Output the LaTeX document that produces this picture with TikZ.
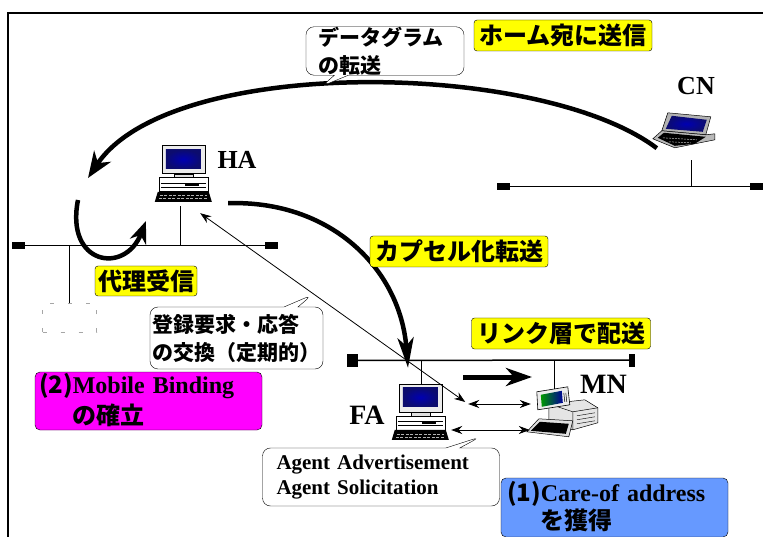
\documentclass[tikz,border=0pt]{standalone}
\usepackage{fontspec}
\setmainfont{Liberation Serif}
\newfontfamily\jp{Noto Sans CJK JP}
\usetikzlibrary{arrows.meta,shapes.callouts}

\definecolor{tagyellow}{RGB}{255,255,0}
\definecolor{bindpink}{RGB}{255,0,255}
\definecolor{coablue}{RGB}{102,153,255}
\definecolor{screenblue}{RGB}{12,12,110}

\begin{document}
\begin{tikzpicture}[x=1pt, y=-1pt,
        tag/.style={draw, fill=tagyellow, rounded corners=3pt, inner sep=0pt,
            minimum height=31pt, font=\jp\bfseries\fontsize{24}{26}\selectfont},
        note/.style={rectangle callout, draw, fill=white, rounded corners=8pt,
            inner sep=0pt, align=left, callout pointer width=14pt},
        panel/.style={draw, rounded corners=5pt, inner sep=0pt, align=left,
            font=\bfseries\fontsize{24}{30}\selectfont},
        host/.style={inner sep=0pt},
        hostlabel/.style={font=\bfseries\fontsize{26}{28}\selectfont},
        term/.style={fill=black, inner sep=0pt, minimum width=13pt, minimum height=7pt},
        net/.style={line width=1.5pt},
        drop/.style={line width=0.8pt},
        flow/.style={line width=4.5pt, -{Stealth[length=26pt,width=20pt,inset=8pt]}},
        msg/.style={line width=0.8pt,
            {Stealth[length=11pt,width=8pt]}-{Stealth[length=11pt,width=8pt]}},
        desktop/.pic={
            % monitor
            \draw[fill=gray!15, line width=0.6pt] (7,0) rectangle (50,28);
            \shade[inner color=blue!70!black, outer color=screenblue] (11,4) rectangle (46,23);
            \draw[fill=gray!25, line width=0.5pt] (19,28) rectangle (38,32);
            % system unit
            \draw[fill=white, line width=0.6pt] (4,32) rectangle (53,46);
            \draw[line width=0.5pt] (6,37) -- (51,37) (6,41) -- (51,41);
            \fill[black] (30,38) rectangle (44,40);
            % keyboard
            \fill[black] (3,46) -- (54,46) -- (57,56) -- (0,56) -- cycle;
            \draw[gray!60, line width=0.6pt, dash pattern=on 3pt off 1.5pt]
                (5,50) -- (52,50) (4,53) -- (53,53);
        },
        laptop/.pic={
            \draw[fill=gray!60, line width=0.5pt] (15,1) -- (58,5) -- (53,23) -- (9,19) -- cycle;
            \shade[inner color=blue!70!black, outer color=screenblue]
                (19,4) -- (54,8) -- (50,20) -- (13,17) -- cycle;
            \draw[fill=gray!55, line width=0.5pt]
                (9,19) -- (53,23) -- (62,22) -- (62,28) -- (22,36) -- (0,27) -- cycle;
            \fill[black] (5,26) -- (11,21) -- (53,25) -- (42,32) -- (22,34) -- cycle;
            \draw[gray!50, line width=0.5pt, dash pattern=on 2pt off 1pt]
                (10,26) -- (44,28) (16,30) -- (38,31);
        },
        portable/.pic={
            % unit under the display
            \draw[fill=gray!20, line width=0.5pt]
                (22,16) -- (58,12) -- (71,20) -- (71,35) -- (46,42) -- (22,34) -- cycle;
            \draw[line width=0.5pt] (22,16) -- (46,24) -- (71,20) (46,24) -- (46,42);
            \draw[line width=0.4pt] (50,28) -- (68,25) (50,32) -- (68,29) (50,36) -- (68,33);
            % keyboard tray
            \draw[fill=gray!25, line width=0.5pt] (0,44) -- (12,31) -- (46,33) -- (42,49) -- cycle;
            \fill[black] (4,43) -- (13,34) -- (42,36) -- (39,46) -- cycle;
            % tilted display
            \draw[fill=gray!15, line width=0.6pt] (10,4) -- (41,-1) -- (43,17) -- (11,22) -- cycle;
            \shade[left color=green!60!black, right color=blue!60!black]
                (14,7) -- (35,3) -- (36,15) -- (15,19) -- cycle;
            \draw[line width=0.5pt] (37,5) -- (38,14) (39,5) -- (40,14);
        }]
    \useasboundingbox (0,0) rectangle (763,537);
    \draw[line width=1.3pt] (8,537) -- (8,13) -- (763,13);

    % hosts
    \node[host, minimum width=57pt, minimum height=56pt] (ha) at (183.5,174) {};
    \pic at (ha.north west) {desktop};
    \node[host, minimum width=56pt, minimum height=55pt] (fa) at (420,411.5) {};
    \pic at (fa.north west) {desktop};
    \node[host, minimum width=62pt, minimum height=36pt] (cn) at (684,130) {};
    \pic at (cn.north west) {laptop};
    \node[host, minimum width=71pt, minimum height=49pt] (mn) at (562.5,412.5) {};
    \pic at (mn.north west) {portable};

    \node[hostlabel] (ha-name) at (237,160) {HA};
    \node[hostlabel] (cn-name) at (696,86) {CN};
    \node[hostlabel, font=\bfseries\fontsize{28}{30}\selectfont] (fa-name) at (367,415) {FA};
    \node[hostlabel, font=\bfseries\fontsize{28}{30}\selectfont] (mn-name) at (603.5,384) {MN};

    % networks
    \node[term] (hl) at (18.5,245.5) {};
    \node[term] (hr) at (271.5,245.5) {};
    \draw[net] (hl) -- (hr);
    \node[term] (cl) at (503.5,186.5) {};
    \node[term] (cr) at (756.5,186.5) {};
    \draw[net] (cl) -- (cr);
    \node[term, minimum width=11pt, minimum height=13pt] (fl) at (352.5,360.5) {};
    \node[term, minimum width=6pt, minimum height=13pt] (fr) at (632,360) {};
    \draw[net] (fl) -- (fr);

    \draw[drop] (ha.south) ++(-3.5,4) coordinate (ha-t) -- (ha-t |- hl);
    \draw[drop] (cn.south) ++(7,12) coordinate (cn-t) -- (cn-t |- cl);
    \draw[drop] (fa.north) ++(1,1) coordinate (fa-t) -- (fa-t |- fl);
    \draw[drop] (mn.north) ++(-8.5,1) coordinate (mn-t) -- (mn-t |- fl);

    \node[draw=gray!70, line width=0.8pt, dash pattern=on 4pt off 14pt,
        minimum width=54pt, minimum height=29pt] (spare) at (69.5,318) {};
    \draw[drop] (spare.north) -- (spare.north |- hl);

    % packet paths
    \coordinate (ha-in) at (88,178);
    \coordinate (loop-a) at (78,200);
    \coordinate (loop-b) at (146,221);
    \coordinate (push-a) at (463,377);
    \coordinate (push-b) at (532,377);
    \draw[flow] ([xshift=4pt]cn.south west) .. controls (540,60) and (170,55) .. (ha-in);
    \draw[flow, -{Stealth[length=22pt,width=17pt,inset=7pt]}]
        (loop-a) .. controls (65,265) and (125,275) .. (loop-b);
    \draw[flow, -{Stealth[length=30pt,width=16pt,inset=8pt]}]
        ([shift={(16,1)}]ha.south east) .. controls (330,200) and (400,268) .. ([shift={(-12,-16)}]fa.north);
    \draw[line width=5pt, -{Stealth[length=26pt,width=18pt,inset=8pt]}] (push-a) -- (push-b);

    % signalling
    \draw[msg] ([shift={(-12,11)}]ha.south east) -- ([shift={(17,-9.5)}]fa.east);
    \draw[msg] ([shift={(20,-7.5)}]fa.east) -- ([shift={(4,-8.5)}]mn.west);
    \draw[msg] ([shift={(3,18.5)}]fa.east) -- ([shift={(3,17.5)}]mn.west);

    % labels
    \node[tag, minimum width=178pt] (home) at (563,35.5) {ホーム宛に送信};
    \node[tag, minimum width=178pt] (encap) at (459,251.5) {カプセル化転送};
    \node[tag, minimum width=102pt, minimum height=30pt] (proxy) at (146,281) {代理受信};
    \node[tag, minimum width=179pt] (link) at (561,333.5) {リンク層で配送};

    \coordinate (dgram-tip) at (322,86);
    \coordinate (reg-tip) at (312,295);
    \coordinate (agent-tip) at (480,437);
    \node[note, callout absolute pointer={(dgram-tip)}, text width=134pt, inner xsep=12pt,
        minimum height=48pt, font=\jp\bfseries\fontsize{21}{28}\selectfont]
        (dgram) at (385,51) {データグラム\\の転送};
    \node[note, callout absolute pointer={(reg-tip)}, text width=168pt, inner xsep=2.5pt,
        minimum height=62pt, font=\jp\bfseries\fontsize{21}{28}\selectfont]
        (reg) at (236.5,338) {登録要求・応答\\の交換（定期的）};
    \node[note, callout absolute pointer={(agent-tip)}, text width=209pt, inner xsep=14pt,
        minimum height=58pt, font=\bfseries\fontsize{21}{25}\selectfont]
        (agent) at (381,477) {Agent Advertisement\\Agent Solicitation};

    \node[panel, fill=bindpink, minimum width=227pt, minimum height=58pt,
        text width=219pt, inner xsep=4pt, font=\bfseries\fontsize{24}{31}\selectfont]
        (bind) at (148.5,401) {{\jp (2)}Mobile Binding\\\phantom{\jp (2)}{\jp の確立}};
    \node[panel, fill=coablue, minimum width=227pt, minimum height=59pt,
        text width=215pt, inner xsep=6pt, font=\bfseries\fontsize{24}{28}\selectfont]
        (coa) at (614.5,507.5) {{\jp (1)}Care-of address\\\phantom{\jp (1)}{\jp を獲得}};
\end{tikzpicture}
\end{document}
